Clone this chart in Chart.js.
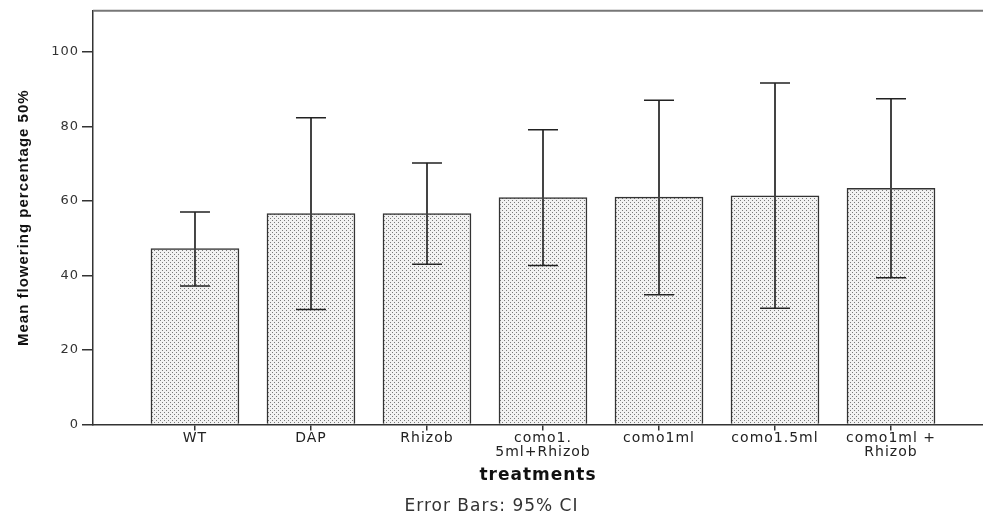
<!DOCTYPE html>
<html>
<head>
<meta charset="utf-8">
<script src="https://cdn.jsdelivr.net/npm/chart.js@4/dist/chart.umd.min.js"></script>
<style>
  html, body { margin: 0; padding: 0; background: #fff; overflow: hidden; }
  #wrap { width: 983px; height: 517px; position: relative; }
</style>
</head>
<body>
<div id="wrap"><canvas id="chart"></canvas></div>
<script>
// treatments on the x axis
const categories = ["WT", "DAP", "Rhizob", "como1.5ml+Rhizob", "como1ml", "como1.5ml", "como1ml + Rhizob"];
const tickLabels = [["WT"], ["DAP"], ["Rhizob"], ["como1.", "5ml+Rhizob"], ["como1ml"], ["como1.5ml"], ["como1ml +", "Rhizob"]];
// mean flowering percentage and 95% CI
const means = [47.2, 56.6, 56.6, 60.9, 61.0, 61.4, 63.4];
const ciLower = [37.2, 30.9, 43.0, 42.7, 34.8, 31.2, 39.4];
const ciUpper = [57.0, 82.3, 70.2, 79.1, 87.0, 91.6, 87.4];
const yTicks = [0, 20, 40, 60, 80, 100];

function makeDots() {
  const c = document.createElement("canvas");
  c.width = 4; c.height = 4;
  const g = c.getContext("2d");
  g.fillStyle = "#f2f2f2";
  g.fillRect(0, 0, 4, 4);
  g.fillStyle = "#7a7a7a";
  g.fillRect(0, 0, 1, 1);
  g.fillRect(2, 2, 1, 1);
  return g.createPattern(c, "repeat");
}

const spacing = {
  id: "spacing",
  beforeUpdate(chart) { chart.ctx.letterSpacing = "1px"; },
  beforeDraw(chart) { chart.ctx.letterSpacing = "1px"; }
};

const frameTop = {
  id: "frameTop",
  afterDraw(chart) {
    const { ctx, chartArea } = chart;
    ctx.save();
    ctx.strokeStyle = "#777";
    ctx.lineWidth = 2;
    ctx.beginPath();
    ctx.moveTo(chartArea.left, chartArea.top);
    ctx.lineTo(chartArea.right, chartArea.top);
    ctx.stroke();
    ctx.restore();
  }
};

const errorBars = {
  id: "errorBars",
  afterDatasetsDraw(chart) {
    const { ctx } = chart;
    const xs = chart.scales.x, ys = chart.scales.y;
    ctx.save();
    ctx.strokeStyle = "#333";
    means.forEach((m, i) => {
      const x = xs.getPixelForValue(i);
      const yl = ys.getPixelForValue(ciLower[i]);
      const yu = ys.getPixelForValue(ciUpper[i]);
      ctx.lineWidth = 2;
      ctx.strokeStyle = "#444";
      ctx.beginPath();
      ctx.moveTo(x, yl);
      ctx.lineTo(x, yu);
      ctx.stroke();
      ctx.lineWidth = 1.5;
      ctx.strokeStyle = "#222";
      ctx.beginPath();
      ctx.moveTo(x - 15, yu);
      ctx.lineTo(x + 15, yu);
      ctx.moveTo(x - 15, yl);
      ctx.lineTo(x + 15, yl);
      ctx.stroke();
    });
    ctx.restore();
  }
};

new Chart(document.getElementById("chart"), {
  type: "bar",
  data: {
    datasets: [{
      label: "Mean flowering percentage 50%",
      data: means.map((m, i) => ({ x: i, y: m })),
      backgroundColor: makeDots(),
      borderColor: "#333",
      borderWidth: 1.5,
      barThickness: 88
    }]
  },
  options: {
    responsive: true,
    maintainAspectRatio: false,
    animation: false,
    layout: { padding: { top: 9, right: 0, left: 0, bottom: 0 } },
    plugins: {
      legend: { display: false },
      tooltip: { enabled: false },
      title: {
        display: true,
        position: "bottom",
        text: "Error Bars: 95% CI",
        color: "#333",
        font: { family: "'DejaVu Sans'", size: 17, weight: "normal" },
        padding: { top: 0, bottom: 0 }
      }
    },
    scales: {
      x: {
        type: "linear",
        offset: false,
        min: -0.879,
        max: 6.793,
        afterBuildTicks: s => { s.ticks = categories.map((c, i) => ({ value: i })); },
        afterFit: s => { s.height = 72; },
        grid: { offset: false, drawOnChartArea: false, tickLength: 6, color: "#333", lineWidth: 1.5 },
        border: { color: "#333", width: 1.5 },
        ticks: {
          autoSkip: false,
          maxRotation: 0,
          padding: 0,
          color: "#222",
          font: { family: "'DejaVu Sans'", size: 14, lineHeight: 1.05 },
          callback: v => tickLabels[v]
        },
        title: {
          display: true,
          text: "treatments",
          color: "#111",
          font: { family: "'DejaVu Sans'", size: 17, weight: "bold" },
          padding: { top: 11, bottom: 11 }
        }
      },
      y: {
        min: 0,
        max: 111,
        afterBuildTicks: s => { s.ticks = yTicks.map(v => ({ value: v })); },
        afterFit: s => { s.width = 93; },
        grid: { drawOnChartArea: false, tickLength: 11, color: "#333", lineWidth: 1.5 },
        border: { color: "#333", width: 1.5 },
        ticks: {
          padding: 3,
          color: "#333",
          font: { family: "'DejaVu Sans'", size: 13 }
        },
        title: {
          display: true,
          text: "Mean flowering percentage 50%",
          color: "#111",
          font: { family: "'Liberation Sans'", size: 15, weight: "bold" },
          padding: { top: 15, bottom: 15 }
        }
      }
    }
  },
  plugins: [spacing, frameTop, errorBars]
});
</script>
</body>
</html>
